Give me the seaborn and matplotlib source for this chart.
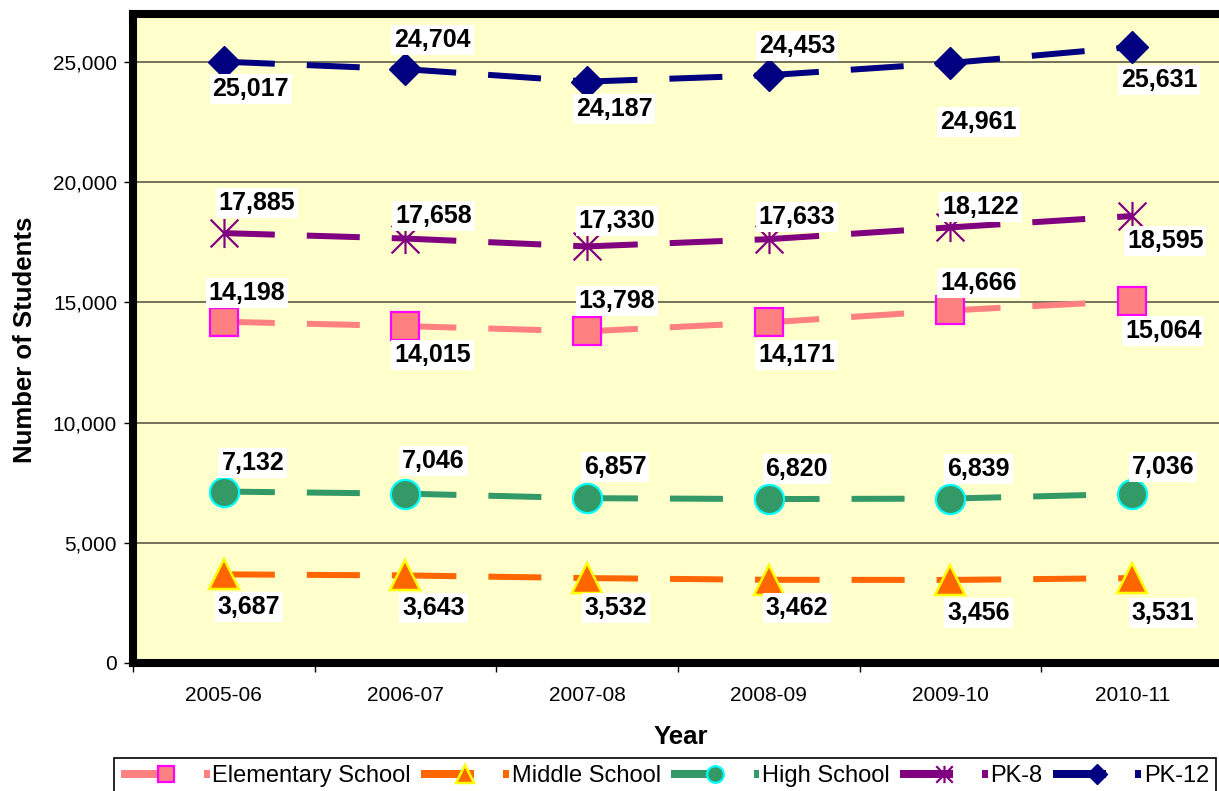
import numpy as np
import pandas as pd
import matplotlib
matplotlib.use("Agg")
import matplotlib.pyplot as plt
import seaborn as sns
from matplotlib.lines import Line2D
from matplotlib.patches import Rectangle
from matplotlib.path import Path
from matplotlib.legend_handler import HandlerLine2D
from matplotlib.ticker import FuncFormatter

# ---------------- data ----------------
years = ["2005-06", "2006-07", "2007-08", "2008-09", "2009-10", "2010-11"]
elementary = [14198, 14015, 13798, 14171, 14666, 15064]
middle = [3687, 3643, 3532, 3462, 3456, 3531]
high = [7132, 7046, 6857, 6820, 6839, 7036]
pk8 = [17885, 17658, 17330, 17633, 18122, 18595]
pk12 = [25017, 24704, 24187, 24453, 24961, 25631]
series_names = ["Elementary School", "Middle School", "High School", "PK-8", "PK-12"]
y_ticks = [0, 5000, 10000, 15000, 20000, 25000]

# ---------------- layout / style (pixels -> points) ----------------
PX = 0.72  # points per pixel at dpi 100

# label offsets in pixels (dx right, dy down)
label_offsets = {
    "Elementary School": [(23, -29), (27, 29), (30, -30), (28, 33), (28, -27), (31, 30)],
    "Middle School": [(25, 33), (28, 33), (29, 30), (28, 28), (28, 33), (31, 35)],
    "High School": [(29, -29), (28, -33), (28, -31), (28, -30), (28, -30), (31, -27)],
    "PK-8": [(33, -30), (28, -23), (30, -25), (28, -22), (30, -20), (33, 25)],
    "PK-12": [(27, 27), (27, -29), (27, 27), (28, -29), (28, 59), (27, 33)],
}

star = Path([(-1, -1), (1, 1), (-1, 1), (1, -1), (0, -1.05), (0, 1.05)],
            [Path.MOVETO, Path.LINETO, Path.MOVETO, Path.LINETO, Path.MOVETO, Path.LINETO])

styles = {
    "Elementary School": dict(color="#FF8080", marker="s", ms=20, mfc="#FF8080", mec="#FF00FF", mew=2.2 * PX, lms=11.5),
    "Middle School": dict(color="#FF6600", marker="^", ms=22, mfc="#FF6600", mec="#FFFF00", mew=2.5 * PX, lms=13),
    "High School": dict(color="#339966", marker="o", ms=21, mfc="#339966", mec="#00FFFF", mew=2.2 * PX, lms=12),
    "PK-8": dict(color="#800080", marker=star, ms=21, mfc="#800080", mec="#800080", mew=2.2 * PX, lms=12.5),
    "PK-12": dict(color="#000080", marker="D", ms=16, mfc="#000080", mec="#000080", mew=1.0, lms=10),
}
values = {
    "Elementary School": elementary,
    "Middle School": middle,
    "High School": high,
    "PK-8": pk8,
    "PK-12": pk12,
}

sns.set_theme(style="white")
plt.rcParams["font.family"] = ["Liberation Sans", "DejaVu Sans"]
plt.rcParams["lines.solid_capstyle"] = "butt"
plt.rcParams["lines.dash_capstyle"] = "butt"

fig = plt.figure(figsize=(12.19, 7.91), dpi=100)
fig.patch.set_facecolor("white")
ax = fig.add_axes([133 / 1219, 1 - 663 / 791, 1090 / 1219, 649 / 791])
ax.set_facecolor("#FFFFCC")

LW_PX = 6.0
dash = (13.6 / LW_PX, (64.6 / LW_PX, 32 / LW_PX, 53 / LW_PX, 32 / LW_PX))

for name in series_names:
    st = styles[name]
    df = pd.DataFrame({"Year": years, "Students": values[name]})
    sns.lineplot(data=df, x="Year", y="Students", ax=ax, sort=False, errorbar=None,
                 legend=False, color=st["color"], linewidth=LW_PX * PX,
                 marker=st["marker"], markersize=st["ms"],
                 markerfacecolor=st["mfc"], markeredgecolor=st["mec"],
                 markeredgewidth=st["mew"])
    line = ax.lines[-1]
    line.set_linestyle(dash)
    line.set_dash_capstyle("butt")
    line.set_zorder(3)

# data labels
for name in series_names:
    for i, (yr, v) in enumerate(zip(years, values[name])):
        dx, dy = label_offsets[name][i]
        ax.annotate(f"{v:,}", xy=(yr, v), xytext=(dx * PX, -dy * PX),
                    textcoords="offset points", ha="center", va="center",
                    fontsize=18, fontweight="bold", color="black", zorder=5,
                    bbox=dict(boxstyle="square,pad=0.12", fc="white", ec="none"))

ax.set_ylim(0, 27000)
ax.set_xlim(-0.5, 5.5)
ax.set_yticks(y_ticks)
ax.yaxis.set_major_formatter(FuncFormatter(lambda v, p: f"{int(v):,}"))
ax.set_xticks(np.arange(-0.5, 6.0, 1.0), minor=True)

ax.yaxis.grid(True, color="#4d4d3d", linewidth=1.1)
ax.xaxis.grid(False)
ax.set_axisbelow(True)

for s in ["left", "top", "bottom"]:
    ax.spines[s].set_visible(True)
    ax.spines[s].set_color("black")
    ax.spines[s].set_linewidth(5.8)
ax.spines["right"].set_visible(False)

ax.tick_params(axis="y", which="major", length=6.5, width=1, color="black",
               direction="out", pad=5, labelsize=15, labelcolor="black", left=True)
ax.tick_params(axis="x", which="major", length=0, pad=16.5, labelsize=15, labelcolor="black", bottom=True)
ax.tick_params(axis="x", which="minor", length=6.5, width=1, color="black", direction="out", bottom=True)

ax.set_xlabel("Year", fontsize=18.5, fontweight="bold", color="black")
ax.set_ylabel("Number of Students", fontsize=18.5, fontweight="bold", color="black")
ax.xaxis.set_label_coords((681 - 133) / 1090, (663 - 737) / 649)
ax.yaxis.set_label_coords((25 - 133) / 1090, (663 - 340) / 649)
ax.xaxis.label.set_va("center")
ax.yaxis.label.set_va("center")


class EntryHandler(HandlerLine2D):
    def create_artists(self, legend, orig_handle, xdescent, ydescent,
                       width, height, fontsize, trans):
        x0 = -xdescent
        y = (height - ydescent) / 2
        line = Line2D([x0, x0 + 0.50 * width, x0 + 0.60 * width], [y, y, y])
        self.update_prop(line, orig_handle, legend)
        line.set_markevery([1])
        line.set_linestyle("-")
        line.set_solid_capstyle("butt")
        line.set_transform(trans)
        sq = Rectangle((x0 + 0.93 * width, y - 4 * PX), 0.065 * width, 8 * PX,
                       facecolor=orig_handle.get_color(), edgecolor="none",
                       transform=trans)
        return [line, sq]


handles = []
for name in series_names:
    st = styles[name]
    handles.append(Line2D([], [], color=st["color"], linewidth=8 * PX,
                          marker=st["marker"], markersize=st["lms"],
                          markerfacecolor=st["mfc"], markeredgecolor=st["mec"],
                          markeredgewidth=st["mew"], solid_capstyle="butt"))

fs_leg = 17
em = fs_leg / PX
leg = fig.legend(handles, series_names, loc="upper left",
                 bbox_to_anchor=(114 / 1219, 1 - 758 / 791),
                 bbox_transform=fig.transFigure, ncol=5, frameon=True,
                 fontsize=fs_leg, handlelength=89 / em, handletextpad=2 / em,
                 columnspacing=10 / em, borderpad=0.3, borderaxespad=0,
                 handler_map={Line2D: EntryHandler()}, fancybox=False,
                 edgecolor="black", framealpha=1, facecolor="white")
leg.get_frame().set_linewidth(1.2)
for t in leg.get_texts():
    t.set_color("black")

fig.savefig("out.png", dpi=100)
